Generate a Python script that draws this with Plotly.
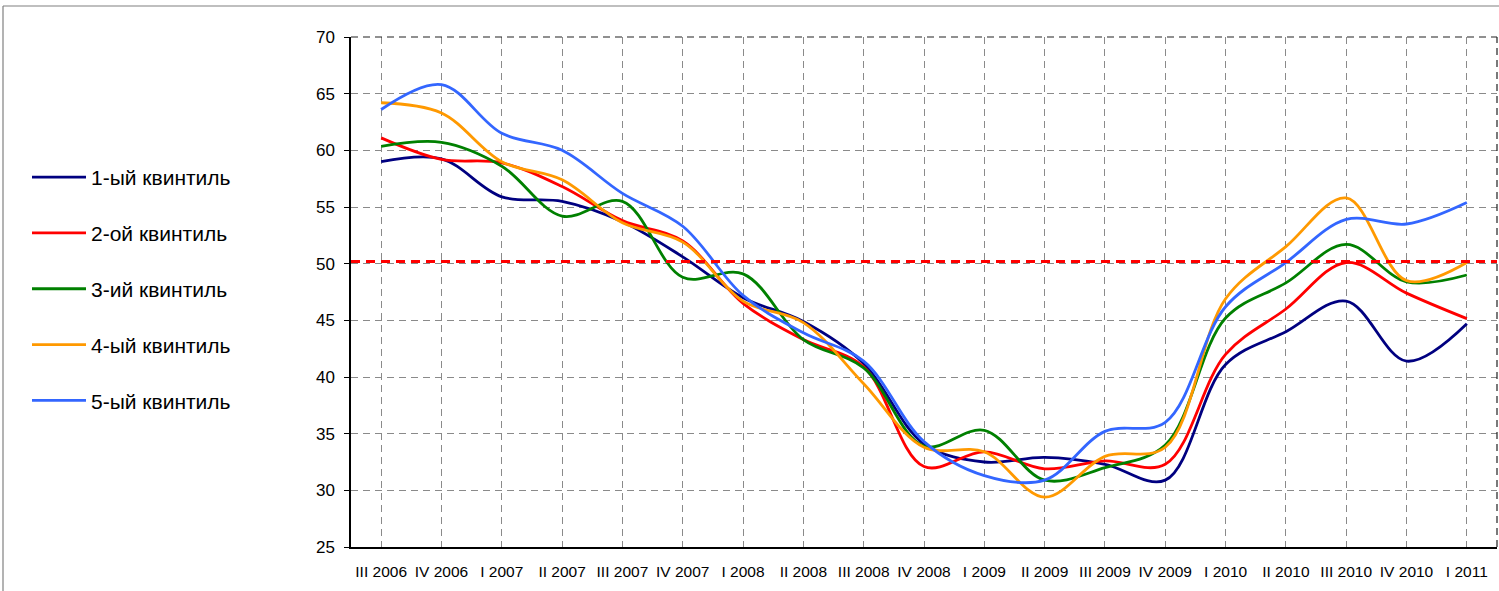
import plotly.graph_objects as go

categories = ["III 2006", "IV 2006", "I 2007", "II 2007", "III 2007", "IV 2007",
              "I 2008", "II 2008", "III 2008", "IV 2008", "I 2009", "II 2009",
              "III 2009", "IV 2009", "I 2010", "II 2010", "III 2010", "IV 2010", "I 2011"]

q1 = [59.0, 59.25, 55.9, 55.5, 53.7, 50.6, 47.0, 44.9, 41.2, 34.1, 32.5, 32.9,
      32.3, 30.9, 41.1, 44.0, 46.7, 41.4, 44.7]
q2 = [61.1, 59.2, 58.9, 56.8, 53.8, 52.0, 46.5, 43.3, 40.9, 32.1, 33.4, 31.9,
      32.6, 32.3, 42.0, 46.0, 50.1, 47.4, 45.15]
q3 = [60.35, 60.7, 58.6, 54.2, 55.5, 48.8, 49.1, 43.3, 40.8, 33.9, 35.3, 30.9,
      32.0, 34.0, 45.2, 48.3, 51.7, 48.4, 49.0]
q4 = [64.2, 63.3, 59.0, 57.4, 53.6, 51.9, 46.7, 44.8, 39.4, 33.8, 33.4, 29.4,
      33.0, 33.8, 46.9, 51.5, 55.8, 48.5, 50.1]
q5 = [63.6, 65.8, 61.5, 60.0, 56.2, 53.3, 47.2, 43.9, 41.4, 34.3, 31.3, 30.9,
      35.2, 36.0, 46.2, 50.1, 53.9, 53.5, 55.4]

series_names = ["1-ый квинтиль", "2-ой квинтиль", "3-ий квинтиль", "4-ый квинтиль", "5-ый квинтиль"]
series_values = [q1, q2, q3, q4, q5]
series_colors = ["#000080", "#FF0000", "#008000", "#FF9900", "#3366FF"]

reference_level = 50.2
y_ticks = [25, 30, 35, 40, 45, 50, 55, 60, 65, 70]

W, H = 1499, 591
L, R, T, B = 351, 2, 37, 44
pw, ph = W - L - R, H - T - B

fig = go.Figure()
for name, vals, col in zip(series_names, series_values, series_colors):
    fig.add_trace(go.Scatter(
        x=categories, y=vals, name=name, mode="lines",
        line=dict(color=col, width=2.8, shape="spline", smoothing=1),
        legendgroup=name,
    ))

font = "Liberation Sans, Arial, sans-serif"
grid_col = "#8a8a8a"

fig.update_layout(
    width=W, height=H,
    margin=dict(l=L, r=R, t=T, b=B, autoexpand=False),
    paper_bgcolor="white", plot_bgcolor="white",
    font=dict(family=font, color="black"),
    showlegend=True,
    legend=dict(
        x=(27 - L) / pw, xanchor="left",
        y=(H - B - 157) / ph, yanchor="top",
        font=dict(size=21, family=font, color="black"),
        tracegroupgap=25.5, itemwidth=54,
        bgcolor="rgba(0,0,0,0)",
    ),
    xaxis=dict(
        type="category", categoryarray=categories, range=[-0.5, 18.5],
        showgrid=True, gridcolor=grid_col, griddash="7px,5px", gridwidth=1,
        ticks="", showline=True, linecolor="black", linewidth=1.5,
        tickfont=dict(size=15.5, family=font), zeroline=False,
        ticklabelstandoff=10,
    ),
    xaxis2=dict(
        overlaying="x", anchor="y", type="linear", range=[-0.5, 18.5],
        tickvals=[i - 0.5 for i in range(len(categories) + 1)],
        ticks="outside", ticklen=5, tickcolor="black", tickwidth=1,
        showticklabels=False, showgrid=False, zeroline=False, side="bottom",
    ),
    yaxis=dict(
        range=[25, 70], tickvals=y_ticks,
        showgrid=True, gridcolor=grid_col, griddash="7px,5px", gridwidth=1,
        ticks="outside", ticklen=5, tickcolor="black",
        showline=True, linecolor="black", linewidth=1.5,
        tickfont=dict(size=17, family=font), zeroline=False,
        ticklabelstandoff=6,
    ),
)

# reference level line
fig.add_shape(type="line", xref="paper", yref="y", x0=0, x1=1,
              y0=reference_level, y1=reference_level,
              line=dict(color="#FF0000", width=3, dash="9px,6px"))
# top and right plot borders (dashed dark)
fig.add_shape(type="line", xref="paper", yref="paper", x0=0, x1=1, y0=1, y1=1,
              line=dict(color="#222222", width=1.2, dash="7px,5px"))
fig.add_shape(type="line", xref="paper", yref="paper", x0=1, x1=1, y0=0, y1=1,
              line=dict(color="#222222", width=1.2, dash="7px,5px"))
# outer chart frame (left and top edges visible)
fx = (3 - L) / pw
fy = (H - B - 6) / ph
fig.add_shape(type="line", xref="paper", yref="paper", x0=fx, x1=fx, y0=-1, y1=fy,
              line=dict(color="#808080", width=1.2))
fig.add_shape(type="line", xref="paper", yref="paper", x0=fx, x1=1.2, y0=fy, y1=fy,
              line=dict(color="#808080", width=1.2))

fig.write_html("out.html", config={"displayModeBar": False},
               post_script="document.body.style.margin='0';")
